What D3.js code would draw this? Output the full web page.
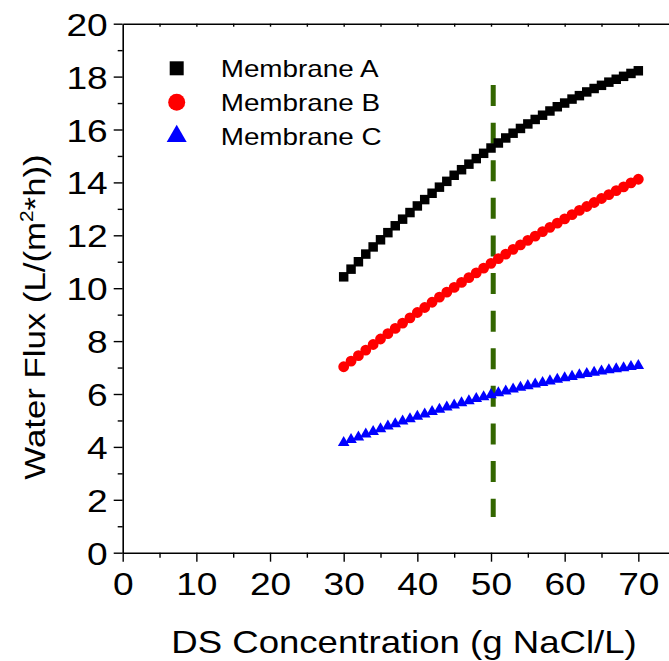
<!DOCTYPE html>
<html lang="en">
<head>
<meta charset="UTF-8">
<title>Water Flux vs DS Concentration</title>
<script src="https://d3js.org/d3.v7.min.js"></script>
<style>
    body { margin: 0; background: white; }
    svg { display: block; }
    text { font-family: "Liberation Sans", Arial, sans-serif; fill: black; }
</style>
</head>
<body>
<svg width="669" height="661"></svg>
<script>
    // data
    let concentration = d3.range(30, 71);   // 30, 31, ... 70 g NaCl/L
    let fluxA = [10.43, 10.72, 11.00, 11.29, 11.56, 11.83, 12.10, 12.36, 12.61, 12.86,
                 13.11, 13.35, 13.59, 13.82, 14.04, 14.27, 14.48, 14.69, 14.90, 15.10,
                 15.30, 15.49, 15.68, 15.86, 16.04, 16.21, 16.38, 16.54, 16.70, 16.86,
                 17.00, 17.15, 17.28, 17.42, 17.55, 17.67, 17.79, 17.90, 18.01, 18.12, 18.22];
    let fluxB = [7.03, 7.24, 7.45, 7.66, 7.87, 8.08, 8.28, 8.48, 8.68, 8.88,
                 9.08, 9.27, 9.47, 9.66, 9.85, 10.03, 10.22, 10.40, 10.58, 10.76,
                 10.94, 11.12, 11.29, 11.47, 11.64, 11.81, 11.97, 12.14, 12.30, 12.46,
                 12.62, 12.78, 12.94, 13.09, 13.24, 13.39, 13.54, 13.69, 13.83, 13.98, 14.12];
    let fluxC = [4.16, 4.27, 4.37, 4.48, 4.58, 4.68, 4.78, 4.87, 4.97, 5.06,
                 5.15, 5.24, 5.33, 5.42, 5.50, 5.58, 5.66, 5.74, 5.82, 5.89,
                 5.97, 6.04, 6.11, 6.18, 6.25, 6.31, 6.37, 6.43, 6.49, 6.55,
                 6.61, 6.66, 6.72, 6.77, 6.82, 6.86, 6.91, 6.95, 6.99, 7.03, 7.07];
    let seriesNames = ["Membrane A", "Membrane B", "Membrane C"];
    let xTicks = [0, 10, 20, 30, 40, 50, 60, 70];
    let yTicks = [0, 2, 4, 6, 8, 10, 12, 14, 16, 18, 20];
    let refLine = {x: 50.3, y0: 1.35, y1: 17.68};

    let svg = d3.select('svg');
    let SX = 1.16; // the original font runs wider than Arial
    let margins = {left: 122.7, top: 23.7, bottom: 552.7};

    let xScale = d3.scaleLinear().domain([0, 74.3]).range([margins.left, 670]);
    let yScale = d3.scaleLinear().domain([0, 20]).range([margins.bottom, margins.top]);

    let colors = ['black', '#ff0000', '#0000ff'];
    let shapes = [d3.symbolSquare, d3.symbolCircle, d3.symbolTriangle];
    let markSize = [90, 92, 58];
    let legendSize = [196, 227, 173];

    // axes
    let bottom = svg.append("g")
        .attr("transform", "translate(0," + margins.bottom + ")")
        .call(d3.axisBottom(xScale).tickValues(xTicks).tickSize(9).tickSizeOuter(0));
    svg.append("g")
        .attr("transform", "translate(0," + margins.bottom + ")")
        .call(d3.axisBottom(xScale).tickValues([5, 15, 25, 35, 45, 55, 65]).tickSize(5).tickFormat(""))
        .select(".domain").remove();
    bottom.selectAll("text")
        .attr("y", 42.3).attr("dy", 0)
        .style("font-size", "32px")
        .attr("transform", "scale(" + SX + ",1)");

    let left = svg.append("g")
        .attr("transform", "translate(" + margins.left + ",0)")
        .call(d3.axisLeft(yScale).tickValues(yTicks).tickSize(9).tickSizeOuter(0));
    svg.append("g")
        .attr("transform", "translate(" + margins.left + ",0)")
        .call(d3.axisLeft(yScale).tickValues(d3.range(1, 20, 2)).tickSize(5).tickFormat(""))
        .select(".domain").remove();
    left.selectAll("text")
        .attr("x", -15 / SX).attr("dy", "0.36em")
        .style("font-size", "32px")
        .attr("transform", "scale(" + SX + ",1)");

    svg.append("g")
        .attr("transform", "translate(0," + margins.top + ")")
        .call(d3.axisTop(xScale).tickValues(d3.range(5, 75, 5)).tickSize(-3).tickSizeOuter(0).tickFormat(""));

    svg.selectAll(".domain").attr("stroke-width", 1.6);
    svg.selectAll(".tick line").attr("stroke-width", 1.4);

    // dashed reference line
    svg.append("line")
        .attr("x1", xScale(refLine.x)).attr("x2", xScale(refLine.x))
        .attr("y1", yScale(refLine.y1)).attr("y2", yScale(refLine.y0))
        .attr("stroke", "#336600")
        .attr("stroke-width", 5)
        .attr("stroke-dasharray", "21,16.6");

    // data markers
    let allSeries = [fluxA, fluxB, fluxC];
    allSeries.forEach(function (values, k) {
        svg.append("g")
            .attr("fill", colors[k])
            .selectAll("path")
            .data(values)
            .enter().append("path")
            .attr("d", d3.symbol().type(shapes[k]).size(markSize[k]))
            .attr("transform", function (d, i) {
                return "translate(" + xScale(concentration[i]) + "," + yScale(d) + ")";
            });
    });

    // legend
    let legend = svg.append("g");
    seriesNames.forEach(function (name, k) {
        let cy = 68.3 + k * 34;
        legend.append("path")
            .attr("d", d3.symbol().type(shapes[k]).size(legendSize[k]))
            .attr("fill", colors[k])
            .attr("transform", "translate(176.7," + cy + ")");
        legend.append("text")
            .attr("transform", "translate(220.7," + (cy + 8.8) + ") scale(" + SX + ",1)")
            .style("font-size", "24px")
            .text(name);
    });

    // axis titles
    svg.append("text")
        .attr("transform", "translate(404,653) scale(1.18,1)")
        .attr("text-anchor", "middle")
        .style("font-size", "31px")
        .text("DS Concentration (g NaCl/L)");

    let yTitle = svg.append("text")
        .attr("transform", "translate(45,317) rotate(-90) scale(" + SX + ",1)")
        .attr("text-anchor", "middle")
        .style("font-size", "30px");
    yTitle.append("tspan").text("Water Flux (L/(m");
    yTitle.append("tspan").attr("dy", -12).style("font-size", "18px").text("2");
    yTitle.append("tspan").attr("dy", 12).text("*h))");
</script>
</body>
</html>
